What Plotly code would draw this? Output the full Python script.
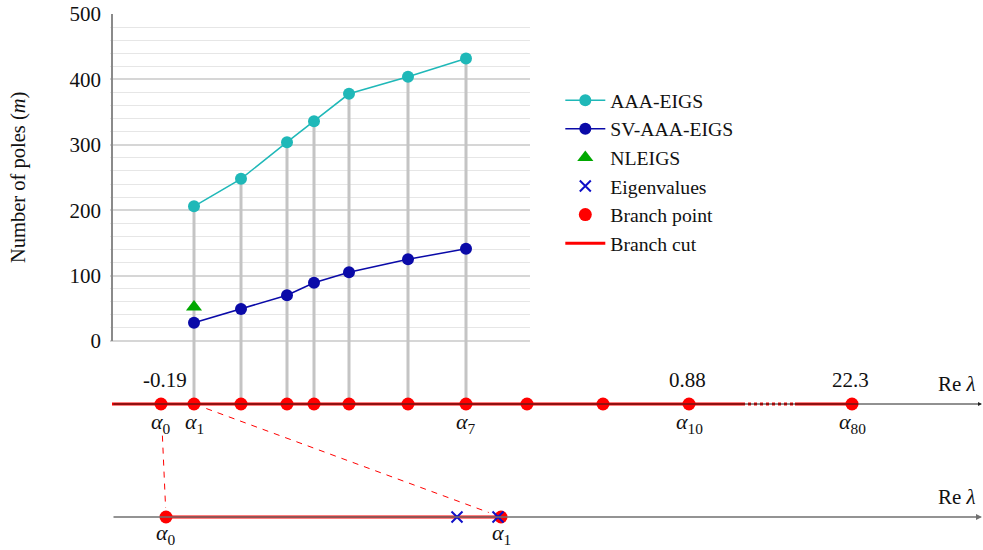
import plotly.graph_objects as go

# ---------------- data ----------------
# schematic positions (horizontal) of the sample points alpha_1 ... alpha_7
sample_pos = [194, 241, 287, 314, 349, 408, 466]
aaa_poles = [206, 248, 304, 336, 378, 404, 432]
sv_poles = [28, 49, 70, 89, 105, 125, 141]
nleigs_pos = [194]
nleigs_poles = [52]

# branch points along the upper real axis (schematic positions)
branch_pos = [161, 194, 241, 287, 314, 349, 408, 466, 527, 603, 689, 852]
branch_names = {0: "0", 1: "1", 7: "7", 10: "10", 11: "80"}
value_labels = {0: "-0.19", 10: "0.88", 11: "22.3"}

# zoomed lower axis: alpha_0 ... alpha_1 with eigenvalues
zoom_branch_pos = [166, 501]
eig_pos = [457, 498]

# diagram levels (vertical, diagram units)
upper_level = 404
lower_level = 517
axis_start = 112
axis_end = 982
cut_break = [745, 795]

yticks = [0, 100, 200, 300, 400, 500]
yminor = [v for v in range(20, 500, 20) if v % 100]

FONT = "Liberation Serif"
TEAL = "#1FB8B8"
NAVY = "#0A0AA8"
GREEN = "#00A800"
RED = "#FF0000"

fig = go.Figure()

# poles axis range extends down to the upper number line
ymin_poles = -96.3

# drop lines from AAA points to number line
for xp, yp in zip(sample_pos, aaa_poles):
    fig.add_trace(go.Scatter(x=[xp, xp], y=[yp, ymin_poles], mode="lines",
                             line=dict(color="#c4c4c4", width=3),
                             showlegend=False, hoverinfo="skip",
                             xaxis="x", yaxis="y"))

# y axis line (only 0..500)
fig.add_trace(go.Scatter(x=[axis_start, axis_start], y=[0, 500], mode="lines",
                         line=dict(color="#8a8a8a", width=2),
                         showlegend=False, hoverinfo="skip", xaxis="x", yaxis="y"))

fig.add_trace(go.Scatter(x=sample_pos, y=aaa_poles, mode="lines+markers",
                         name="AAA-EIGS", legendrank=1,
                         line=dict(color=TEAL, width=1.5),
                         marker=dict(color=TEAL, size=12),
                         xaxis="x", yaxis="y", cliponaxis=False))
fig.add_trace(go.Scatter(x=sample_pos, y=sv_poles, mode="lines+markers",
                         name="SV-AAA-EIGS", legendrank=2,
                         line=dict(color=NAVY, width=1.5),
                         marker=dict(color=NAVY, size=12),
                         xaxis="x", yaxis="y", cliponaxis=False))
fig.add_trace(go.Scatter(x=nleigs_pos, y=nleigs_poles, mode="markers",
                         name="NLEIGS", legendrank=3,
                         marker=dict(color=GREEN, size=14, symbol="triangle-up"),
                         xaxis="x", yaxis="y", cliponaxis=False))

# ---------- diagram (x2 / y2) ----------
fig.add_annotation(x=axis_end, y=upper_level, ax=axis_start, ay=upper_level,
                   xref="x2", yref="y2", axref="x2", ayref="y2",
                   showarrow=True, arrowhead=2, arrowsize=0.8, arrowwidth=1,
                   arrowcolor="#222", text="")
fig.add_annotation(x=axis_end, y=lower_level, ax=axis_start, ay=lower_level,
                   xref="x2", yref="y2", axref="x2", ayref="y2",
                   showarrow=True, arrowhead=2, arrowsize=0.8, arrowwidth=1.5,
                   arrowcolor="#707070", text="")

# branch cut segments upper
fig.add_trace(go.Scatter(x=[axis_start, cut_break[0]], y=[upper_level, upper_level],
                         mode="lines", line=dict(color=RED, width=3),
                         name="Branch cut", legendrank=6,
                         xaxis="x2", yaxis="y2", hoverinfo="skip"))
fig.add_trace(go.Scatter(x=[cut_break[0] + 3, cut_break[1]], y=[upper_level, upper_level],
                         mode="lines", line=dict(color=RED, width=3, dash="dot"),
                         showlegend=False, xaxis="x2", yaxis="y2", hoverinfo="skip"))
fig.add_trace(go.Scatter(x=[cut_break[1], branch_pos[-1]], y=[upper_level, upper_level],
                         mode="lines", line=dict(color=RED, width=3),
                         showlegend=False, xaxis="x2", yaxis="y2", hoverinfo="skip"))
# branch cut lower
fig.add_trace(go.Scatter(x=zoom_branch_pos, y=[lower_level] * 2,
                         mode="lines", line=dict(color=RED, width=3),
                         showlegend=False, xaxis="x2", yaxis="y2", hoverinfo="skip"))

# dashed connectors
def connector(p0, p1, t0, t1):
    (x0, y0), (x1, y1) = p0, p1
    return ([x0 + t0 * (x1 - x0), x0 + t1 * (x1 - x0)],
            [y0 + t0 * (y1 - y0), y0 + t1 * (y1 - y0)])

cx, cy = connector((branch_pos[0], upper_level), (zoom_branch_pos[0], lower_level), 0.28, 0.92)
fig.add_trace(go.Scatter(x=cx, y=cy, mode="lines",
                         line=dict(color=RED, width=1, dash="6px,6px"),
                         showlegend=False, xaxis="x2", yaxis="y2", hoverinfo="skip"))
cx, cy = connector((branch_pos[1], upper_level), (zoom_branch_pos[1], lower_level), 0.04, 0.96)
fig.add_trace(go.Scatter(x=cx, y=cy, mode="lines",
                         line=dict(color=RED, width=1, dash="6px,6px"),
                         showlegend=False, xaxis="x2", yaxis="y2", hoverinfo="skip"))

# branch points
fig.add_trace(go.Scatter(x=branch_pos, y=[upper_level] * len(branch_pos),
                         mode="markers", name="Branch point", legendrank=5,
                         marker=dict(color=RED, size=13),
                         xaxis="x2", yaxis="y2", cliponaxis=False))
fig.add_trace(go.Scatter(x=zoom_branch_pos, y=[lower_level] * 2,
                         mode="markers", showlegend=False,
                         marker=dict(color=RED, size=13),
                         xaxis="x2", yaxis="y2", cliponaxis=False))
# eigenvalues
fig.add_trace(go.Scatter(x=eig_pos, y=[lower_level] * len(eig_pos),
                         mode="markers", name="Eigenvalues", legendrank=4,
                         marker=dict(color="#1010C8", size=11, symbol="x-thin",
                                     line=dict(color="#1010C8", width=2)),
                         xaxis="x2", yaxis="y2", cliponaxis=False))

# labels
def alpha(sub):
    return f"<i>α</i><sub>{sub}</sub>"

for i, sub in branch_names.items():
    fig.add_annotation(x=branch_pos[i], y=upper_level + 19, xref="x2", yref="y2",
                       text=alpha(sub), showarrow=False,
                       font=dict(family=FONT, size=22, color="#111"))
for i, txt in value_labels.items():
    fig.add_annotation(x=branch_pos[i] + (4 if i == 0 else -2), y=upper_level - 24,
                       xref="x2", yref="y2", text=txt, showarrow=False,
                       font=dict(family=FONT, size=21, color="#111"))
for j, sub in enumerate(["0", "1"]):
    fig.add_annotation(x=zoom_branch_pos[j], y=lower_level + 17, xref="x2", yref="y2",
                       text=alpha(sub), showarrow=False,
                       font=dict(family=FONT, size=22, color="#111"))
for lvl in (upper_level, lower_level):
    fig.add_annotation(x=957, y=lvl - 20, xref="x2", yref="y2",
                       text="Re <i>λ</i>", showarrow=False,
                       font=dict(family=FONT, size=21, color="#111"))

# y-axis title (placed as rotated text centred on the 0..500 range)
fig.add_annotation(x=18 / 983, y=1 - 178 / 550, xref="paper", yref="paper",
                   xanchor="center", yanchor="middle",
                   text="Number of poles (<i>m</i>)", textangle=-90, showarrow=False,
                   font=dict(family=FONT, size=20.5, color="#111"))

fig.update_layout(
    width=983, height=550,
    margin=dict(l=0, r=0, t=0, b=0, autoexpand=False),
    paper_bgcolor="white", plot_bgcolor="rgba(0,0,0,0)",
    font=dict(family=FONT, size=20, color="#111"),
    showlegend=True,
    legend=dict(x=0.570, y=0.853, xanchor="left", yanchor="top",
                bgcolor="rgba(0,0,0,0)", font=dict(family=FONT, size=19.7, color="#111"),
                tracegroupgap=0, itemwidth=40),
    xaxis=dict(domain=[110 / 983, 530 / 983], range=[110, 530], visible=False,
               fixedrange=True),
    yaxis=dict(domain=[(550 - 404) / 550, (550 - 14) / 550], range=[ymin_poles, 500],
               automargin=False,
               tickvals=yticks, ticktext=[str(v) for v in yticks],
               showgrid=True, gridcolor="#d6d6d6", gridwidth=2,
               zeroline=False, showline=False, ticks="", ticklabelstandoff=8,
               tickfont=dict(family=FONT, size=21, color="#111"),
               minor=dict(tickvals=yminor, showgrid=True, gridcolor="#e6e6e6", gridwidth=1)),
    xaxis2=dict(domain=[0, 1], range=[0, 983], visible=False, anchor="y2",
                automargin=False),
    yaxis2=dict(domain=[0, 1], range=[550, 0], visible=False, anchor="x2",
                automargin=False),
)

fig.write_html("out.html", config={"displayModeBar": False},
               post_script="document.body.style.margin='0';document.body.style.overflow='hidden';")
